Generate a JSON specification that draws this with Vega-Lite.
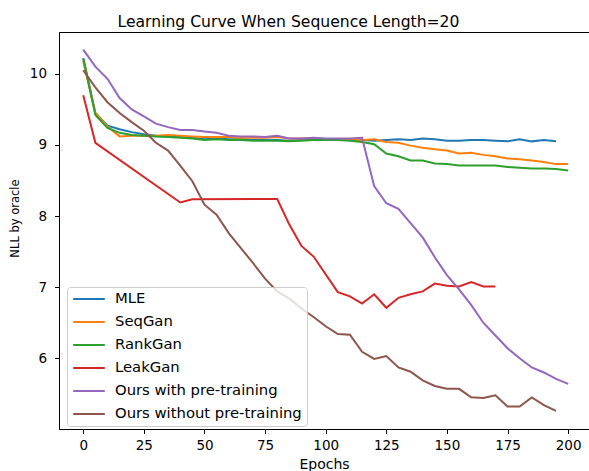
{
  "$schema": "https://vega.github.io/schema/vega-lite/v6.json",
  "width": 530,
  "height": 397,
  "autosize": {"type": "none"},
  "padding": {"left": 59, "top": 32, "right": 0, "bottom": 42},
  "config": {
    "font": "DejaVu Sans",
    "view": {"stroke": "black", "strokeWidth": 1},
    "axis": {"grid": false, "domainColor": "black", "tickColor": "black", "labelColor": "black", "titleColor": "black", "labelFont": "DejaVu Sans", "titleFont": "DejaVu Sans", "titleFontWeight": "normal"}
  },
  "title": {"text": "Learning Curve When Sequence Length=20", "fontSize": 15.6, "fontWeight": "normal", "color": "black", "anchor": "middle", "frame": "group", "dx": -35.5, "dy": 18.5, "baseline": "alphabetic", "offset": 8},
  "data": {"values": [
    {"series":"MLE","epoch":0,"nll":10.22},{"series":"MLE","epoch":5,"nll":9.45},{"series":"MLE","epoch":10,"nll":9.27},{"series":"MLE","epoch":15,"nll":9.22},{"series":"MLE","epoch":20,"nll":9.18},{"series":"MLE","epoch":25,"nll":9.15},{"series":"MLE","epoch":30,"nll":9.13},{"series":"MLE","epoch":35,"nll":9.12},{"series":"MLE","epoch":40,"nll":9.11},{"series":"MLE","epoch":45,"nll":9.10},{"series":"MLE","epoch":50,"nll":9.08},{"series":"MLE","epoch":55,"nll":9.09},{"series":"MLE","epoch":60,"nll":9.08},{"series":"MLE","epoch":65,"nll":9.08},{"series":"MLE","epoch":70,"nll":9.07},{"series":"MLE","epoch":75,"nll":9.07},{"series":"MLE","epoch":80,"nll":9.07},{"series":"MLE","epoch":85,"nll":9.06},{"series":"MLE","epoch":90,"nll":9.07},{"series":"MLE","epoch":95,"nll":9.08},{"series":"MLE","epoch":100,"nll":9.08},{"series":"MLE","epoch":105,"nll":9.08},{"series":"MLE","epoch":110,"nll":9.07},{"series":"MLE","epoch":115,"nll":9.07},{"series":"MLE","epoch":120,"nll":9.06},{"series":"MLE","epoch":125,"nll":9.07},{"series":"MLE","epoch":130,"nll":9.08},{"series":"MLE","epoch":135,"nll":9.07},{"series":"MLE","epoch":140,"nll":9.09},{"series":"MLE","epoch":145,"nll":9.08},{"series":"MLE","epoch":150,"nll":9.06},{"series":"MLE","epoch":155,"nll":9.06},{"series":"MLE","epoch":160,"nll":9.07},{"series":"MLE","epoch":165,"nll":9.07},{"series":"MLE","epoch":170,"nll":9.06},{"series":"MLE","epoch":175,"nll":9.05},{"series":"MLE","epoch":180,"nll":9.08},{"series":"MLE","epoch":185,"nll":9.05},{"series":"MLE","epoch":190,"nll":9.07},{"series":"MLE","epoch":195,"nll":9.05},
    {"series":"SeqGan","epoch":0,"nll":10.18},{"series":"SeqGan","epoch":5,"nll":9.45},{"series":"SeqGan","epoch":10,"nll":9.26},{"series":"SeqGan","epoch":15,"nll":9.12},{"series":"SeqGan","epoch":20,"nll":9.13},{"series":"SeqGan","epoch":25,"nll":9.13},{"series":"SeqGan","epoch":30,"nll":9.13},{"series":"SeqGan","epoch":35,"nll":9.14},{"series":"SeqGan","epoch":40,"nll":9.13},{"series":"SeqGan","epoch":45,"nll":9.12},{"series":"SeqGan","epoch":50,"nll":9.11},{"series":"SeqGan","epoch":55,"nll":9.11},{"series":"SeqGan","epoch":60,"nll":9.11},{"series":"SeqGan","epoch":65,"nll":9.10},{"series":"SeqGan","epoch":70,"nll":9.10},{"series":"SeqGan","epoch":75,"nll":9.10},{"series":"SeqGan","epoch":80,"nll":9.11},{"series":"SeqGan","epoch":85,"nll":9.09},{"series":"SeqGan","epoch":90,"nll":9.09},{"series":"SeqGan","epoch":95,"nll":9.09},{"series":"SeqGan","epoch":100,"nll":9.08},{"series":"SeqGan","epoch":105,"nll":9.08},{"series":"SeqGan","epoch":110,"nll":9.08},{"series":"SeqGan","epoch":115,"nll":9.07},{"series":"SeqGan","epoch":120,"nll":9.08},{"series":"SeqGan","epoch":125,"nll":9.04},{"series":"SeqGan","epoch":130,"nll":9.03},{"series":"SeqGan","epoch":135,"nll":8.99},{"series":"SeqGan","epoch":140,"nll":8.96},{"series":"SeqGan","epoch":145,"nll":8.94},{"series":"SeqGan","epoch":150,"nll":8.92},{"series":"SeqGan","epoch":155,"nll":8.88},{"series":"SeqGan","epoch":160,"nll":8.89},{"series":"SeqGan","epoch":165,"nll":8.86},{"series":"SeqGan","epoch":170,"nll":8.84},{"series":"SeqGan","epoch":175,"nll":8.81},{"series":"SeqGan","epoch":180,"nll":8.80},{"series":"SeqGan","epoch":185,"nll":8.78},{"series":"SeqGan","epoch":190,"nll":8.76},{"series":"SeqGan","epoch":195,"nll":8.73},{"series":"SeqGan","epoch":200,"nll":8.73},
    {"series":"RankGan","epoch":0,"nll":10.22},{"series":"RankGan","epoch":5,"nll":9.42},{"series":"RankGan","epoch":10,"nll":9.24},{"series":"RankGan","epoch":15,"nll":9.17},{"series":"RankGan","epoch":20,"nll":9.14},{"series":"RankGan","epoch":25,"nll":9.13},{"series":"RankGan","epoch":30,"nll":9.12},{"series":"RankGan","epoch":35,"nll":9.11},{"series":"RankGan","epoch":40,"nll":9.10},{"series":"RankGan","epoch":45,"nll":9.09},{"series":"RankGan","epoch":50,"nll":9.07},{"series":"RankGan","epoch":55,"nll":9.08},{"series":"RankGan","epoch":60,"nll":9.07},{"series":"RankGan","epoch":65,"nll":9.07},{"series":"RankGan","epoch":70,"nll":9.06},{"series":"RankGan","epoch":75,"nll":9.06},{"series":"RankGan","epoch":80,"nll":9.06},{"series":"RankGan","epoch":85,"nll":9.05},{"series":"RankGan","epoch":90,"nll":9.06},{"series":"RankGan","epoch":95,"nll":9.07},{"series":"RankGan","epoch":100,"nll":9.07},{"series":"RankGan","epoch":105,"nll":9.07},{"series":"RankGan","epoch":110,"nll":9.06},{"series":"RankGan","epoch":115,"nll":9.04},{"series":"RankGan","epoch":120,"nll":9.01},{"series":"RankGan","epoch":125,"nll":8.88},{"series":"RankGan","epoch":130,"nll":8.84},{"series":"RankGan","epoch":135,"nll":8.78},{"series":"RankGan","epoch":140,"nll":8.78},{"series":"RankGan","epoch":145,"nll":8.74},{"series":"RankGan","epoch":150,"nll":8.73},{"series":"RankGan","epoch":155,"nll":8.71},{"series":"RankGan","epoch":160,"nll":8.71},{"series":"RankGan","epoch":165,"nll":8.71},{"series":"RankGan","epoch":170,"nll":8.71},{"series":"RankGan","epoch":175,"nll":8.69},{"series":"RankGan","epoch":180,"nll":8.68},{"series":"RankGan","epoch":185,"nll":8.67},{"series":"RankGan","epoch":190,"nll":8.67},{"series":"RankGan","epoch":195,"nll":8.66},{"series":"RankGan","epoch":200,"nll":8.64},
    {"series":"LeakGan","epoch":0,"nll":9.70},{"series":"LeakGan","epoch":5,"nll":9.03},{"series":"LeakGan","epoch":40,"nll":8.19},{"series":"LeakGan","epoch":45,"nll":8.235},{"series":"LeakGan","epoch":80,"nll":8.24},{"series":"LeakGan","epoch":85,"nll":7.88},{"series":"LeakGan","epoch":90,"nll":7.58},{"series":"LeakGan","epoch":95,"nll":7.43},{"series":"LeakGan","epoch":105,"nll":6.93},{"series":"LeakGan","epoch":110,"nll":6.87},{"series":"LeakGan","epoch":115,"nll":6.77},{"series":"LeakGan","epoch":120,"nll":6.90},{"series":"LeakGan","epoch":125,"nll":6.71},{"series":"LeakGan","epoch":130,"nll":6.85},{"series":"LeakGan","epoch":135,"nll":6.90},{"series":"LeakGan","epoch":140,"nll":6.94},{"series":"LeakGan","epoch":145,"nll":7.05},{"series":"LeakGan","epoch":150,"nll":7.02},{"series":"LeakGan","epoch":155,"nll":7.01},{"series":"LeakGan","epoch":160,"nll":7.07},{"series":"LeakGan","epoch":165,"nll":7.01},{"series":"LeakGan","epoch":170,"nll":7.01},
    {"series":"Ours with pre-training","epoch":0,"nll":10.34},{"series":"Ours with pre-training","epoch":5,"nll":10.10},{"series":"Ours with pre-training","epoch":10,"nll":9.93},{"series":"Ours with pre-training","epoch":15,"nll":9.66},{"series":"Ours with pre-training","epoch":20,"nll":9.50},{"series":"Ours with pre-training","epoch":25,"nll":9.40},{"series":"Ours with pre-training","epoch":30,"nll":9.30},{"series":"Ours with pre-training","epoch":35,"nll":9.25},{"series":"Ours with pre-training","epoch":40,"nll":9.21},{"series":"Ours with pre-training","epoch":45,"nll":9.21},{"series":"Ours with pre-training","epoch":50,"nll":9.19},{"series":"Ours with pre-training","epoch":55,"nll":9.17},{"series":"Ours with pre-training","epoch":60,"nll":9.13},{"series":"Ours with pre-training","epoch":65,"nll":9.12},{"series":"Ours with pre-training","epoch":70,"nll":9.12},{"series":"Ours with pre-training","epoch":75,"nll":9.11},{"series":"Ours with pre-training","epoch":80,"nll":9.13},{"series":"Ours with pre-training","epoch":85,"nll":9.09},{"series":"Ours with pre-training","epoch":90,"nll":9.09},{"series":"Ours with pre-training","epoch":95,"nll":9.10},{"series":"Ours with pre-training","epoch":100,"nll":9.09},{"series":"Ours with pre-training","epoch":105,"nll":9.09},{"series":"Ours with pre-training","epoch":110,"nll":9.09},{"series":"Ours with pre-training","epoch":115,"nll":9.10},{"series":"Ours with pre-training","epoch":120,"nll":8.42},{"series":"Ours with pre-training","epoch":125,"nll":8.18},{"series":"Ours with pre-training","epoch":130,"nll":8.10},{"series":"Ours with pre-training","epoch":135,"nll":7.90},{"series":"Ours with pre-training","epoch":140,"nll":7.70},{"series":"Ours with pre-training","epoch":145,"nll":7.42},{"series":"Ours with pre-training","epoch":150,"nll":7.17},{"series":"Ours with pre-training","epoch":155,"nll":6.97},{"series":"Ours with pre-training","epoch":160,"nll":6.75},{"series":"Ours with pre-training","epoch":165,"nll":6.50},{"series":"Ours with pre-training","epoch":170,"nll":6.32},{"series":"Ours with pre-training","epoch":175,"nll":6.14},{"series":"Ours with pre-training","epoch":180,"nll":6.00},{"series":"Ours with pre-training","epoch":185,"nll":5.87},{"series":"Ours with pre-training","epoch":190,"nll":5.80},{"series":"Ours with pre-training","epoch":195,"nll":5.71},{"series":"Ours with pre-training","epoch":200,"nll":5.64},
    {"series":"Ours without pre-training","epoch":0,"nll":10.05},{"series":"Ours without pre-training","epoch":5,"nll":9.81},{"series":"Ours without pre-training","epoch":10,"nll":9.60},{"series":"Ours without pre-training","epoch":15,"nll":9.45},{"series":"Ours without pre-training","epoch":20,"nll":9.32},{"series":"Ours without pre-training","epoch":25,"nll":9.20},{"series":"Ours without pre-training","epoch":30,"nll":9.03},{"series":"Ours without pre-training","epoch":35,"nll":8.92},{"series":"Ours without pre-training","epoch":40,"nll":8.71},{"series":"Ours without pre-training","epoch":45,"nll":8.49},{"series":"Ours without pre-training","epoch":50,"nll":8.16},{"series":"Ours without pre-training","epoch":55,"nll":8.02},{"series":"Ours without pre-training","epoch":60,"nll":7.76},{"series":"Ours without pre-training","epoch":65,"nll":7.55},{"series":"Ours without pre-training","epoch":70,"nll":7.34},{"series":"Ours without pre-training","epoch":75,"nll":7.12},{"series":"Ours without pre-training","epoch":80,"nll":6.94},{"series":"Ours without pre-training","epoch":85,"nll":6.84},{"series":"Ours without pre-training","epoch":90,"nll":6.70},{"series":"Ours without pre-training","epoch":95,"nll":6.58},{"series":"Ours without pre-training","epoch":100,"nll":6.45},{"series":"Ours without pre-training","epoch":105,"nll":6.34},{"series":"Ours without pre-training","epoch":110,"nll":6.33},{"series":"Ours without pre-training","epoch":115,"nll":6.09},{"series":"Ours without pre-training","epoch":120,"nll":5.99},{"series":"Ours without pre-training","epoch":125,"nll":6.03},{"series":"Ours without pre-training","epoch":130,"nll":5.87},{"series":"Ours without pre-training","epoch":135,"nll":5.81},{"series":"Ours without pre-training","epoch":140,"nll":5.69},{"series":"Ours without pre-training","epoch":145,"nll":5.61},{"series":"Ours without pre-training","epoch":150,"nll":5.57},{"series":"Ours without pre-training","epoch":155,"nll":5.57},{"series":"Ours without pre-training","epoch":160,"nll":5.45},{"series":"Ours without pre-training","epoch":165,"nll":5.44},{"series":"Ours without pre-training","epoch":170,"nll":5.48},{"series":"Ours without pre-training","epoch":175,"nll":5.32},{"series":"Ours without pre-training","epoch":180,"nll":5.32},{"series":"Ours without pre-training","epoch":185,"nll":5.45},{"series":"Ours without pre-training","epoch":190,"nll":5.34},{"series":"Ours without pre-training","epoch":195,"nll":5.26}
  ]},
  "mark": {"type": "line", "strokeWidth": 2, "clip": true},
  "encoding": {
    "x": {"field": "epoch", "type": "quantitative", "scale": {"domain": [-10, 208.6], "nice": false, "zero": false},
      "axis": {"values": [0, 25, 50, 75, 100, 125, 150, 175, 200], "tickSize": 4.5, "labelPadding": 5, "labelFontSize": 13.5, "title": "Epochs", "titleFontSize": 14, "titleBaseline": "alphabetic", "titleY": 39, "domainWidth": 1}},
    "y": {"field": "nll", "type": "quantitative", "scale": {"domain": [5.005, 10.588], "nice": false, "zero": false},
      "axis": {"values": [6, 7, 8, 9, 10], "tickSize": 4.5, "labelPadding": 8, "labelFontSize": 13.5, "title": "NLL by oracle", "titleFontSize": 11.5, "titleBaseline": "alphabetic", "titleX": -41, "titleY": 186, "titleAlign": "center", "titleAngle": -90, "domainWidth": 1}},
    "color": {"field": "series", "type": "nominal",
      "scale": {"domain": ["MLE", "SeqGan", "RankGan", "LeakGan", "Ours with pre-training", "Ours without pre-training"], "range": ["#1f77b4", "#ff7f0e", "#2ca02c", "#d62728", "#9467bd", "#8c564b"]},
      "legend": {"title": null, "orient": "none", "legendX": 8, "legendY": 255, "symbolType": "stroke", "symbolStrokeWidth": 2, "symbolSize": 1000, "clipHeight": 14, "rowPadding": 8, "padding": 5, "labelOffset": 9, "labelFontSize": 14.8, "labelLimit": 300, "labelColor": "black", "labelFont": "DejaVu Sans", "strokeColor": "#cccccc", "fillColor": "rgba(255,255,255,0.8)", "cornerRadius": 3}}
  }
}
